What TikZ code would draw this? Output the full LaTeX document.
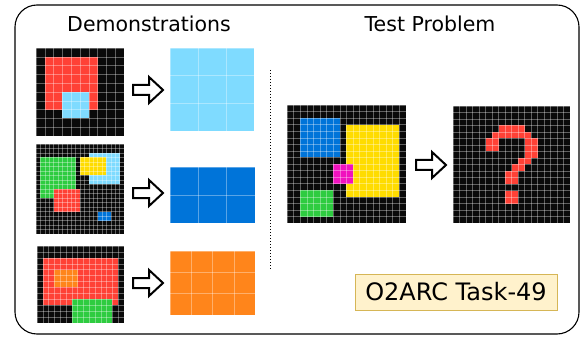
\documentclass[tikz,border=0pt]{standalone}
\usepackage{fontspec}
\setmainfont{DejaVu Sans}
\definecolor{arcblack}{HTML}{0A0A0A}
\definecolor{arcred}{HTML}{FF4136}
\definecolor{arclblue}{HTML}{7FDBFF}
\definecolor{arcblue}{HTML}{0074D9}
\definecolor{arcgreen}{HTML}{2ECC40}
\definecolor{arcyellow}{HTML}{FFDC00}
\definecolor{arcorange}{HTML}{FF851B}
\definecolor{arcmagenta}{HTML}{F012BE}
\definecolor{notefill}{HTML}{FFF2CC}
\definecolor{notedraw}{HTML}{D6B656}
\newcommand{\arcgrid}[7]{%
  \begin{scope}[shift={(#1,#2)}, x=#3pt, y=-#4pt]
    \fill[arcblack] (0,0) rectangle (#5,#6);
    \foreach \a/\b/\c/\d/\col in {#7} {\fill[\col] (\a,\b) rectangle (\c,\d);}
    \foreach \i in {0,...,#5} {\draw[gridline] (\i,0) -- (\i,#6);}
    \foreach \j in {0,...,#6} {\draw[gridline] (0,\j) -- (#5,\j);}
  \end{scope}}
\newcommand{\blockarrow}[2]{%
  \draw[blockarrowstyle, shift={(#1,#2)}] (-15,-5) -- (1,-5) -- (1,-13) -- (15,0) -- (1,13) -- (1,5) -- (-15,5) -- cycle;}
\tikzset{
  gridline/.style={white, opacity=0.35, line width=0.5pt},
  blockarrowstyle/.style={draw=black, fill=white, line width=2pt, line join=miter},
  title/.style={font=\fontsize{20.5}{24}\selectfont, inner sep=0pt},
  note/.style={draw=notedraw, fill=notefill, line width=0.8pt, minimum width=202pt, minimum height=36pt, inner sep=0pt, font=\fontsize{24}{28}\selectfont},
}
\begin{document}
\begin{tikzpicture}[x=1pt, y=-1pt]
\useasboundingbox (0,0) rectangle (583,339);
\draw[line width=1.1pt, rounded corners=22pt] (15,5) rectangle (579,334);
\node[title] (demo) at (149,24) {Demonstrations};
\node[title] (test) at (430,24) {Test Problem};
% demonstration 1
\arcgrid{36}{48}{8.8}{8.8}{10}{10}{1/1/7/7/arcred, 3/5/6/8/arclblue}
\blockarrow{148}{90}
\arcgrid{170}{48}{28}{27.7}{3}{3}{0/0/3/3/arclblue}
% demonstration 2
\arcgrid{36}{144}{4.4}{4.5}{20}{20}{1/3/9/12/arcgreen, 12/2/19/9/arclblue, 10/3/16/7/arcyellow, 4/10/10/15/arcred, 14/15/17/17/arcblue}
\blockarrow{148}{193}
\arcgrid{170}{167}{28.3}{28}{3}{2}{0/0/3/2/arcblue}
% demonstration 3
\arcgrid{37}{246}{5.8}{5.92}{15}{13}{1/2/14/10/arcred, 3/4/7/7/arcorange, 6/9/13/13/arcgreen}
\blockarrow{148}{283}
\arcgrid{170}{251}{21.25}{21.3}{4}{3}{0/0/4/3/arcorange}
% separator
\coordinate (sepTop) at (270,70);
\coordinate (sepBot) at (270,270);
\draw[dotted, line width=1pt] (sepTop) -- (sepBot);
% test problem
\arcgrid{287}{105}{6.6}{6.56}{18}{18}{2/2/8/8/arcblue, 9/3/17/14/arcyellow, 7/9/10/12/arcmagenta, 2/13/7/17/arcgreen}
\blockarrow{431}{165}
\arcgrid{453}{106}{6.5}{6.5}{18}{18}{7/3/11/4/arcred, 6/4/12/5/arcred, 5/5/7/7/arcred, 11/5/13/8/arcred, 10/8/12/9/arcred, 9/9/11/10/arcred, 8/10/10/12/arcred, 8/13/10/15/arcred}
\node[note] (task) at (456,292) {O2ARC Task-49};
\end{tikzpicture}
\end{document}
